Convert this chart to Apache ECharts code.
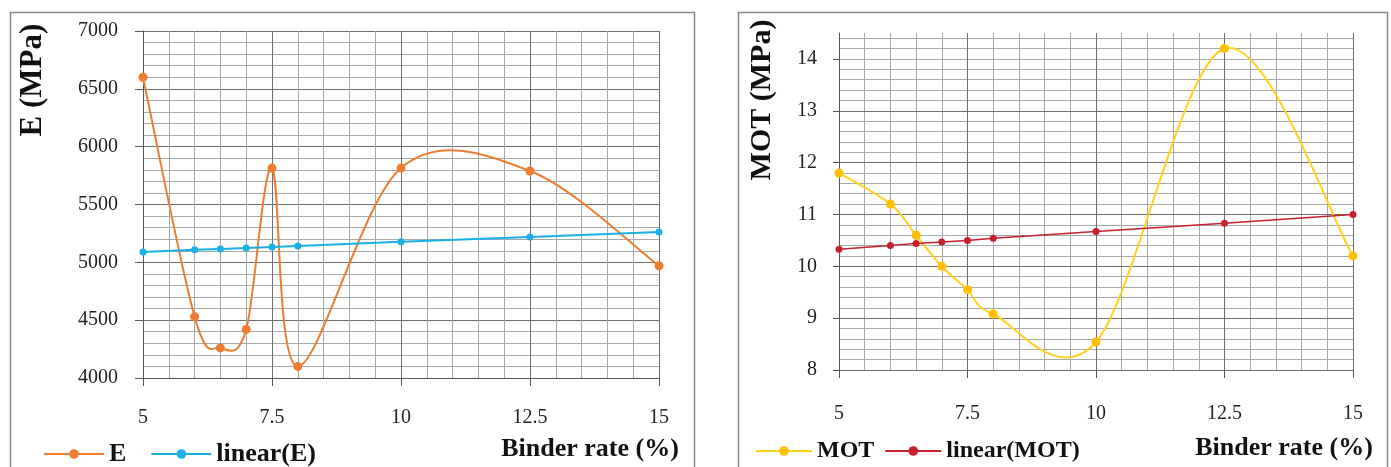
<!DOCTYPE html>
<html>
<head>
<meta charset="utf-8">
<script src="https://cdn.jsdelivr.net/npm/echarts@6/dist/echarts.min.js"></script>
<style>
html,body{margin:0;padding:0;background:#fff;}
#chart{width:1391px;height:467px;}
</style>
</head>
<body>
<div id="chart"></div>
<script>
// ---- data ----
const binderRate = [5, 6, 6.5, 7, 7.5, 8, 10, 12.5, 15];
const valE = [6600, 4530, 4260, 4420, 5815, 4100, 5815, 5790, 4970];
const valLinE = [5090, 5108, 5116, 5124, 5133, 5142, 5177, 5220, 5262];
const valMOT = [11.8, 11.2, 10.6, 10.0, 9.55, 9.08, 8.54, 14.2, 10.2];
const valLinMOT = [10.33, 10.40, 10.44, 10.47, 10.50, 10.54, 10.67, 10.83, 11.0];
const xTicks = [5, 7.5, 10, 12.5, 15];
const yTicksE = [4000, 4500, 5000, 5500, 6000, 6500, 7000];
const yTicksMOT = [8, 9, 10, 11, 12, 13, 14];
const yMaxMOT = 14.5;
const seriesNames = ['E', 'linear(E)', 'MOT', 'linear(MOT)'];
const xName = 'Binder rate (%)';
const yNameE = 'E (MPa)';
const yNameMOT = 'MOT (MPa)';

const pairs = (xs, ys) => xs.map((x, i) => [x, ys[i]]);

const SERIF = '"Liberation Serif", "DejaVu Serif", serif';
const MAJOR = '#6e6e6e';
const MINOR = '#a8a8a8';

// Excel-like smoothed curve (Catmull-Rom, tension 1/6) drawn through the axis scales (api.coord)
function smoothCurveSeries(name, xs, ys, xAxisIndex, yAxisIndex, color) {
  return {
    name: name + ' ', type: 'custom', xAxisIndex, yAxisIndex, z: 2,
    data: pairs(xs, ys),
    silent: true,
    renderItem: function (params, api) {
      if (params.dataIndex !== 0) return null;
      const P = xs.map((x, i) => api.coord([x, ys[i]]));
      const n = P.length;
      const k = 1 / 6;
      let d = 'M' + P[0][0] + ' ' + P[0][1];
      for (let i = 0; i < n - 1; i++) {
        const p0 = P[Math.max(i - 1, 0)], p1 = P[i], p2 = P[i + 1], p3 = P[Math.min(i + 2, n - 1)];
        const c1 = [p1[0] + (p2[0] - p0[0]) * k, p1[1] + (p2[1] - p0[1]) * k];
        const c2 = [p2[0] - (p3[0] - p1[0]) * k, p2[1] - (p3[1] - p1[1]) * k];
        d += ' C' + c1[0] + ' ' + c1[1] + ' ' + c2[0] + ' ' + c2[1] + ' ' + p2[0] + ' ' + p2[1];
      }
      return {
        type: 'path',
        shape: { pathData: d },
        style: { fill: 'none', stroke: color, lineWidth: 2 }
      };
    }
  };
}

function xAxisCfg(gridIndex, margin) {
  return {
    type: 'value', gridIndex,
    min: xTicks[0], max: xTicks[xTicks.length - 1], interval: xTicks[1] - xTicks[0],
    axisLine: { show: true, lineStyle: { color: '#555', width: 1 } },
    axisTick: { show: true, length: 8, lineStyle: { color: '#555' } },
    axisLabel: { fontFamily: SERIF, fontSize: 20, color: '#222', margin },
    splitLine: { show: true, lineStyle: { color: MAJOR, width: 1 } },
    minorTick: { show: false, splitNumber: 5 },
    minorSplitLine: { show: true, lineStyle: { color: MINOR, width: 1 } }
  };
}

const plain = v => String(v);

const option = {
  animation: false,
  backgroundColor: '#fff',
  grid: [
    { left: 143, top: 31, width: 516, height: 347, containLabel: false },
    { left: 839, top: 33, width: 514, height: 337, containLabel: false }
  ],
  xAxis: [xAxisCfg(0, 30), xAxisCfg(1, 34)],
  yAxis: [
    {
      type: 'value', gridIndex: 0,
      min: yTicksE[0], max: yTicksE[yTicksE.length - 1], interval: yTicksE[1] - yTicksE[0],
      axisLine: { show: true, lineStyle: { color: '#555' } },
      axisTick: { show: true, length: 8, lineStyle: { color: '#555' } },
      axisLabel: { fontFamily: SERIF, fontSize: 20, color: '#222', margin: 25, formatter: plain },
      splitLine: { show: true, lineStyle: { color: MAJOR, width: 1 } },
      minorTick: { show: false, splitNumber: 5 },
      minorSplitLine: { show: true, lineStyle: { color: MINOR, width: 1 } }
    },
    {
      type: 'value', gridIndex: 1, z: 1,
      min: yTicksMOT[0], max: yMaxMOT, interval: yTicksMOT[1] - yTicksMOT[0],
      axisLine: { show: true, lineStyle: { color: '#555' } },
      axisTick: { show: true, length: 6, lineStyle: { color: '#555' }, customValues: yTicksMOT },
      axisLabel: { fontFamily: SERIF, fontSize: 20, color: '#222', margin: 22, customValues: yTicksMOT, formatter: plain },
      splitLine: { show: true, showMaxLine: false, lineStyle: { color: MAJOR, width: 1 } }
    },
    {
      type: 'value', gridIndex: 1, z: 0, position: 'right',
      min: yTicksMOT[0], max: yMaxMOT, interval: 0.2,
      axisLine: { show: false }, axisTick: { show: false }, axisLabel: { show: false },
      splitLine: { show: true, showMaxLine: false, lineStyle: { color: MINOR, width: 1 } }
    }
  ],
  legend: [
    {
      data: [seriesNames[0], seriesNames[1]],
      left: 38, top: 436, itemWidth: 60, itemHeight: 12, itemGap: 24,
      lineStyle: { opacity: 1, width: 2 },
      textStyle: { fontFamily: SERIF, fontSize: 26, fontWeight: 'bold', color: '#111' }
    },
    {
      data: [seriesNames[2], seriesNames[3]],
      left: 750, top: 434, itemWidth: 56, itemHeight: 12, itemGap: 10,
      lineStyle: { opacity: 1, width: 2 },
      textStyle: { fontFamily: SERIF, fontSize: 24, fontWeight: 'bold', color: '#111' }
    }
  ],
  graphic: [
    { type: 'rect', left: 8, top: 10, shape: { width: 684, height: 500 }, style: { fill: 'none', stroke: '#8a8a8a', lineWidth: 1.5 }, z: -10 },
    { type: 'rect', left: 736, top: 10, shape: { width: 649, height: 500 }, style: { fill: 'none', stroke: '#8a8a8a', lineWidth: 1.5 }, z: -10 },
    { type: 'text', x: 590, y: 449, style: { text: xName, font: 'bold 26px ' + SERIF, fill: '#111', align: 'center', verticalAlign: 'middle' } },
    { type: 'text', x: 1284, y: 448, style: { text: xName, font: 'bold 26px ' + SERIF, fill: '#111', align: 'center', verticalAlign: 'middle' } },
    { type: 'text', x: 33, y: 80, rotation: Math.PI / 2, style: { text: yNameE, font: 'bold 31px ' + SERIF, fill: '#111', align: 'center', verticalAlign: 'middle' } },
    { type: 'text', x: 762, y: 100, rotation: Math.PI / 2, style: { text: yNameMOT, font: 'bold 30px ' + SERIF, fill: '#111', align: 'center', verticalAlign: 'middle' } }
  ],
  series: [
    {
      name: seriesNames[0], type: 'line', xAxisIndex: 0, yAxisIndex: 0, z: 3,
      data: pairs(binderRate, valE),
      symbol: 'circle', symbolSize: 9,
      lineStyle: { color: '#ED7D31', width: 2, opacity: 0 }, itemStyle: { color: '#ED7D31' }
    },
    {
      name: seriesNames[1], type: 'line', xAxisIndex: 0, yAxisIndex: 0, z: 3,
      data: pairs(binderRate, valLinE),
      symbol: 'circle', symbolSize: 7,
      lineStyle: { color: '#1AAFE6', width: 2 }, itemStyle: { color: '#1AAFE6' }
    },
    {
      name: seriesNames[2], type: 'line', xAxisIndex: 1, yAxisIndex: 1, z: 3,
      data: pairs(binderRate, valMOT),
      symbol: 'circle', symbolSize: 9,
      lineStyle: { color: '#FFD21F', width: 2, opacity: 0 }, itemStyle: { color: '#FFC000' }
    },
    {
      name: seriesNames[3], type: 'line', xAxisIndex: 1, yAxisIndex: 1, z: 3,
      data: pairs(binderRate, valLinMOT),
      symbol: 'circle', symbolSize: 7,
      lineStyle: { color: '#C8202E', width: 1.5 }, itemStyle: { color: '#C8202E' }
    },
    smoothCurveSeries(seriesNames[0], binderRate, valE, 0, 0, '#ED7D31'),
    smoothCurveSeries(seriesNames[2], binderRate, valMOT, 1, 1, '#FFD21F')
  ]
};

const chart = echarts.init(document.getElementById('chart'), null, { renderer: 'canvas' });
chart.setOption(option);
</script>
</body>
</html>
